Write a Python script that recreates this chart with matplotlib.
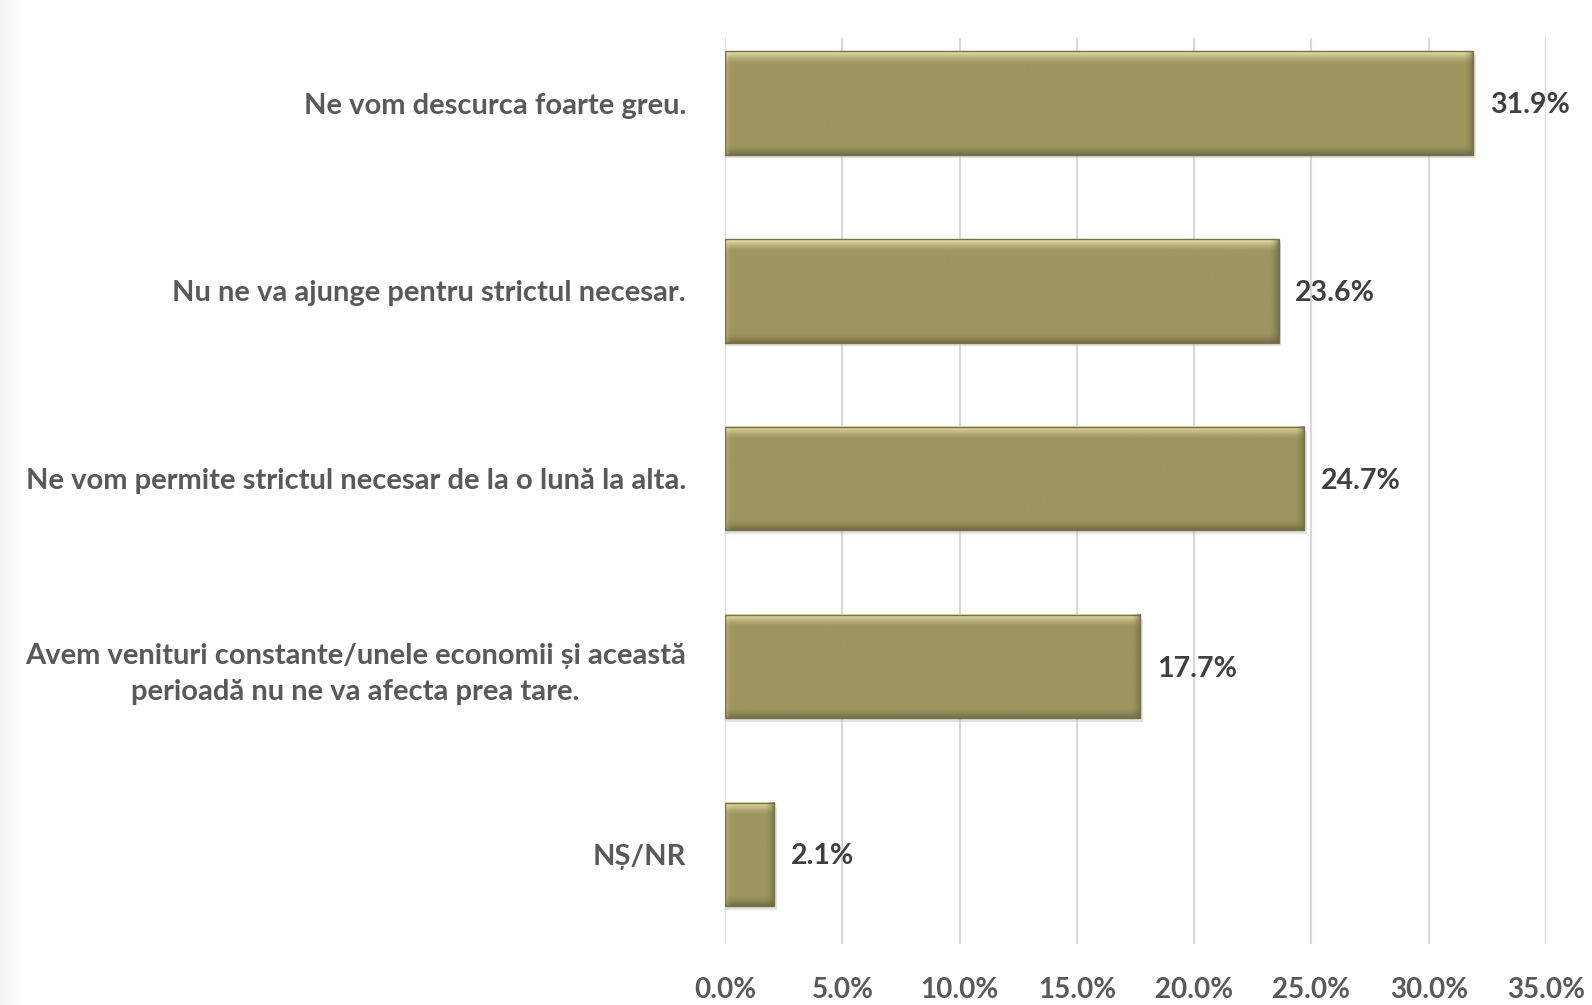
import numpy as np
import matplotlib.pyplot as plt
from matplotlib.colors import to_rgb

plt.rcParams['font.family'] = ['Lato', 'DejaVu Sans']

# date din grafic
categorii = ['Ne vom descurca foarte greu.',
             'Nu ne va ajunge pentru strictul necesar.',
             'Ne vom permite strictul necesar de la o lună la alta.',
             'Avem venituri constante/unele economii și această\nperioadă nu ne va afecta prea tare.',
             'NȘ/NR']
valori = [31.9, 23.6, 24.7, 17.7, 2.1]
ticks = [0, 5, 10, 15, 20, 25, 30, 35]

W, H = 1592, 1005
fig = plt.figure(figsize=(W / 100, H / 100), dpi=100)

# umbra fina in marginea din stanga
bg = fig.add_axes([0, 0, 0.012, 1])
bg.imshow(np.linspace(0.955, 1.0, 30)[None, :, None] * np.ones((1, 1, 3)), aspect='auto',
          extent=(0, 1, 0, 1))
bg.axis('off')

ax = fig.add_axes([725 / W, 1 - 944 / H, (1546 - 725) / W, (944 - 38) / H])
ylim = (4.476, -0.346)
px_x = 821 / 35.0
px_y = 906 / (ylim[0] - ylim[1])

y = np.arange(len(categorii))
h_bar = 0.55
baza = np.array(to_rgb('#9e955f'))
deschis = np.array(to_rgb('#ece4ad'))
inchis = np.array(to_rgb('#6b6640'))


def textura(w):
    # gradient de relief pentru o bara
    nr = int(h_bar * px_y)
    nc = max(int(w * px_x), 4)
    img = np.tile(baza, (nr, nc, 1))
    for i in range(12):
        a = (1 - i / 12) ** 1.5
        img[i, :] = deschis * a + baza * (1 - a)
    for i in range(10):
        a = (1 - i / 10) ** 1.5 * 0.8
        img[nr - 1 - i, :] = inchis * a + img[nr - 1 - i, :] * (1 - a)
    for j in range(min(9, nc // 2)):
        a = (1 - j / 9) ** 1.5 * 0.7
        img[:, nc - 1 - j] = inchis * a + img[:, nc - 1 - j] * (1 - a)
    for j in range(min(6, nc // 2)):
        a = (1 - j / 6) ** 1.5 * 0.35
        img[:, j] = deschis * a + img[:, j] * (1 - a)
    return img


for yi, v in zip(y, valori):
    # umbra
    ax.barh(yi + 0.02, v + 0.12, height=h_bar, color='#b0b0b0', alpha=0.35, linewidth=0, zorder=2)
    ax.imshow(textura(v), extent=(0, v, yi + h_bar / 2, yi - h_bar / 2), aspect='auto',
              interpolation='bilinear', zorder=3)
    ax.barh(yi, v, height=h_bar, fill=False, edgecolor='#77714a', linewidth=1.0, zorder=4)
    ax.text(v + 0.7, yi + 0.01, f'{v:.1f}%', va='center', ha='left', fontsize=20.5,
            fontweight='bold', color='#404040')

ax.set_xlim(0, 35)
ax.set_ylim(*ylim)
ax.set_xticks(ticks)
ax.set_xticklabels([f'{t:.1f}%' for t in ticks], fontsize=20, fontweight='bold', color='#595959')
ax.set_yticks(y)
ax.set_yticklabels(categorii, fontsize=21, fontweight='bold', color='#595959',
                   multialignment='center', linespacing=1.45)
ax.tick_params(axis='y', length=0, pad=28)
ax.tick_params(axis='x', length=0, pad=24)

ax.grid(axis='x', color='#d9d9d9', linewidth=1.5, zorder=0)
ax.set_axisbelow(True)
for s in ax.spines.values():
    s.set_visible(False)

fig.savefig('out.png', dpi=100)
